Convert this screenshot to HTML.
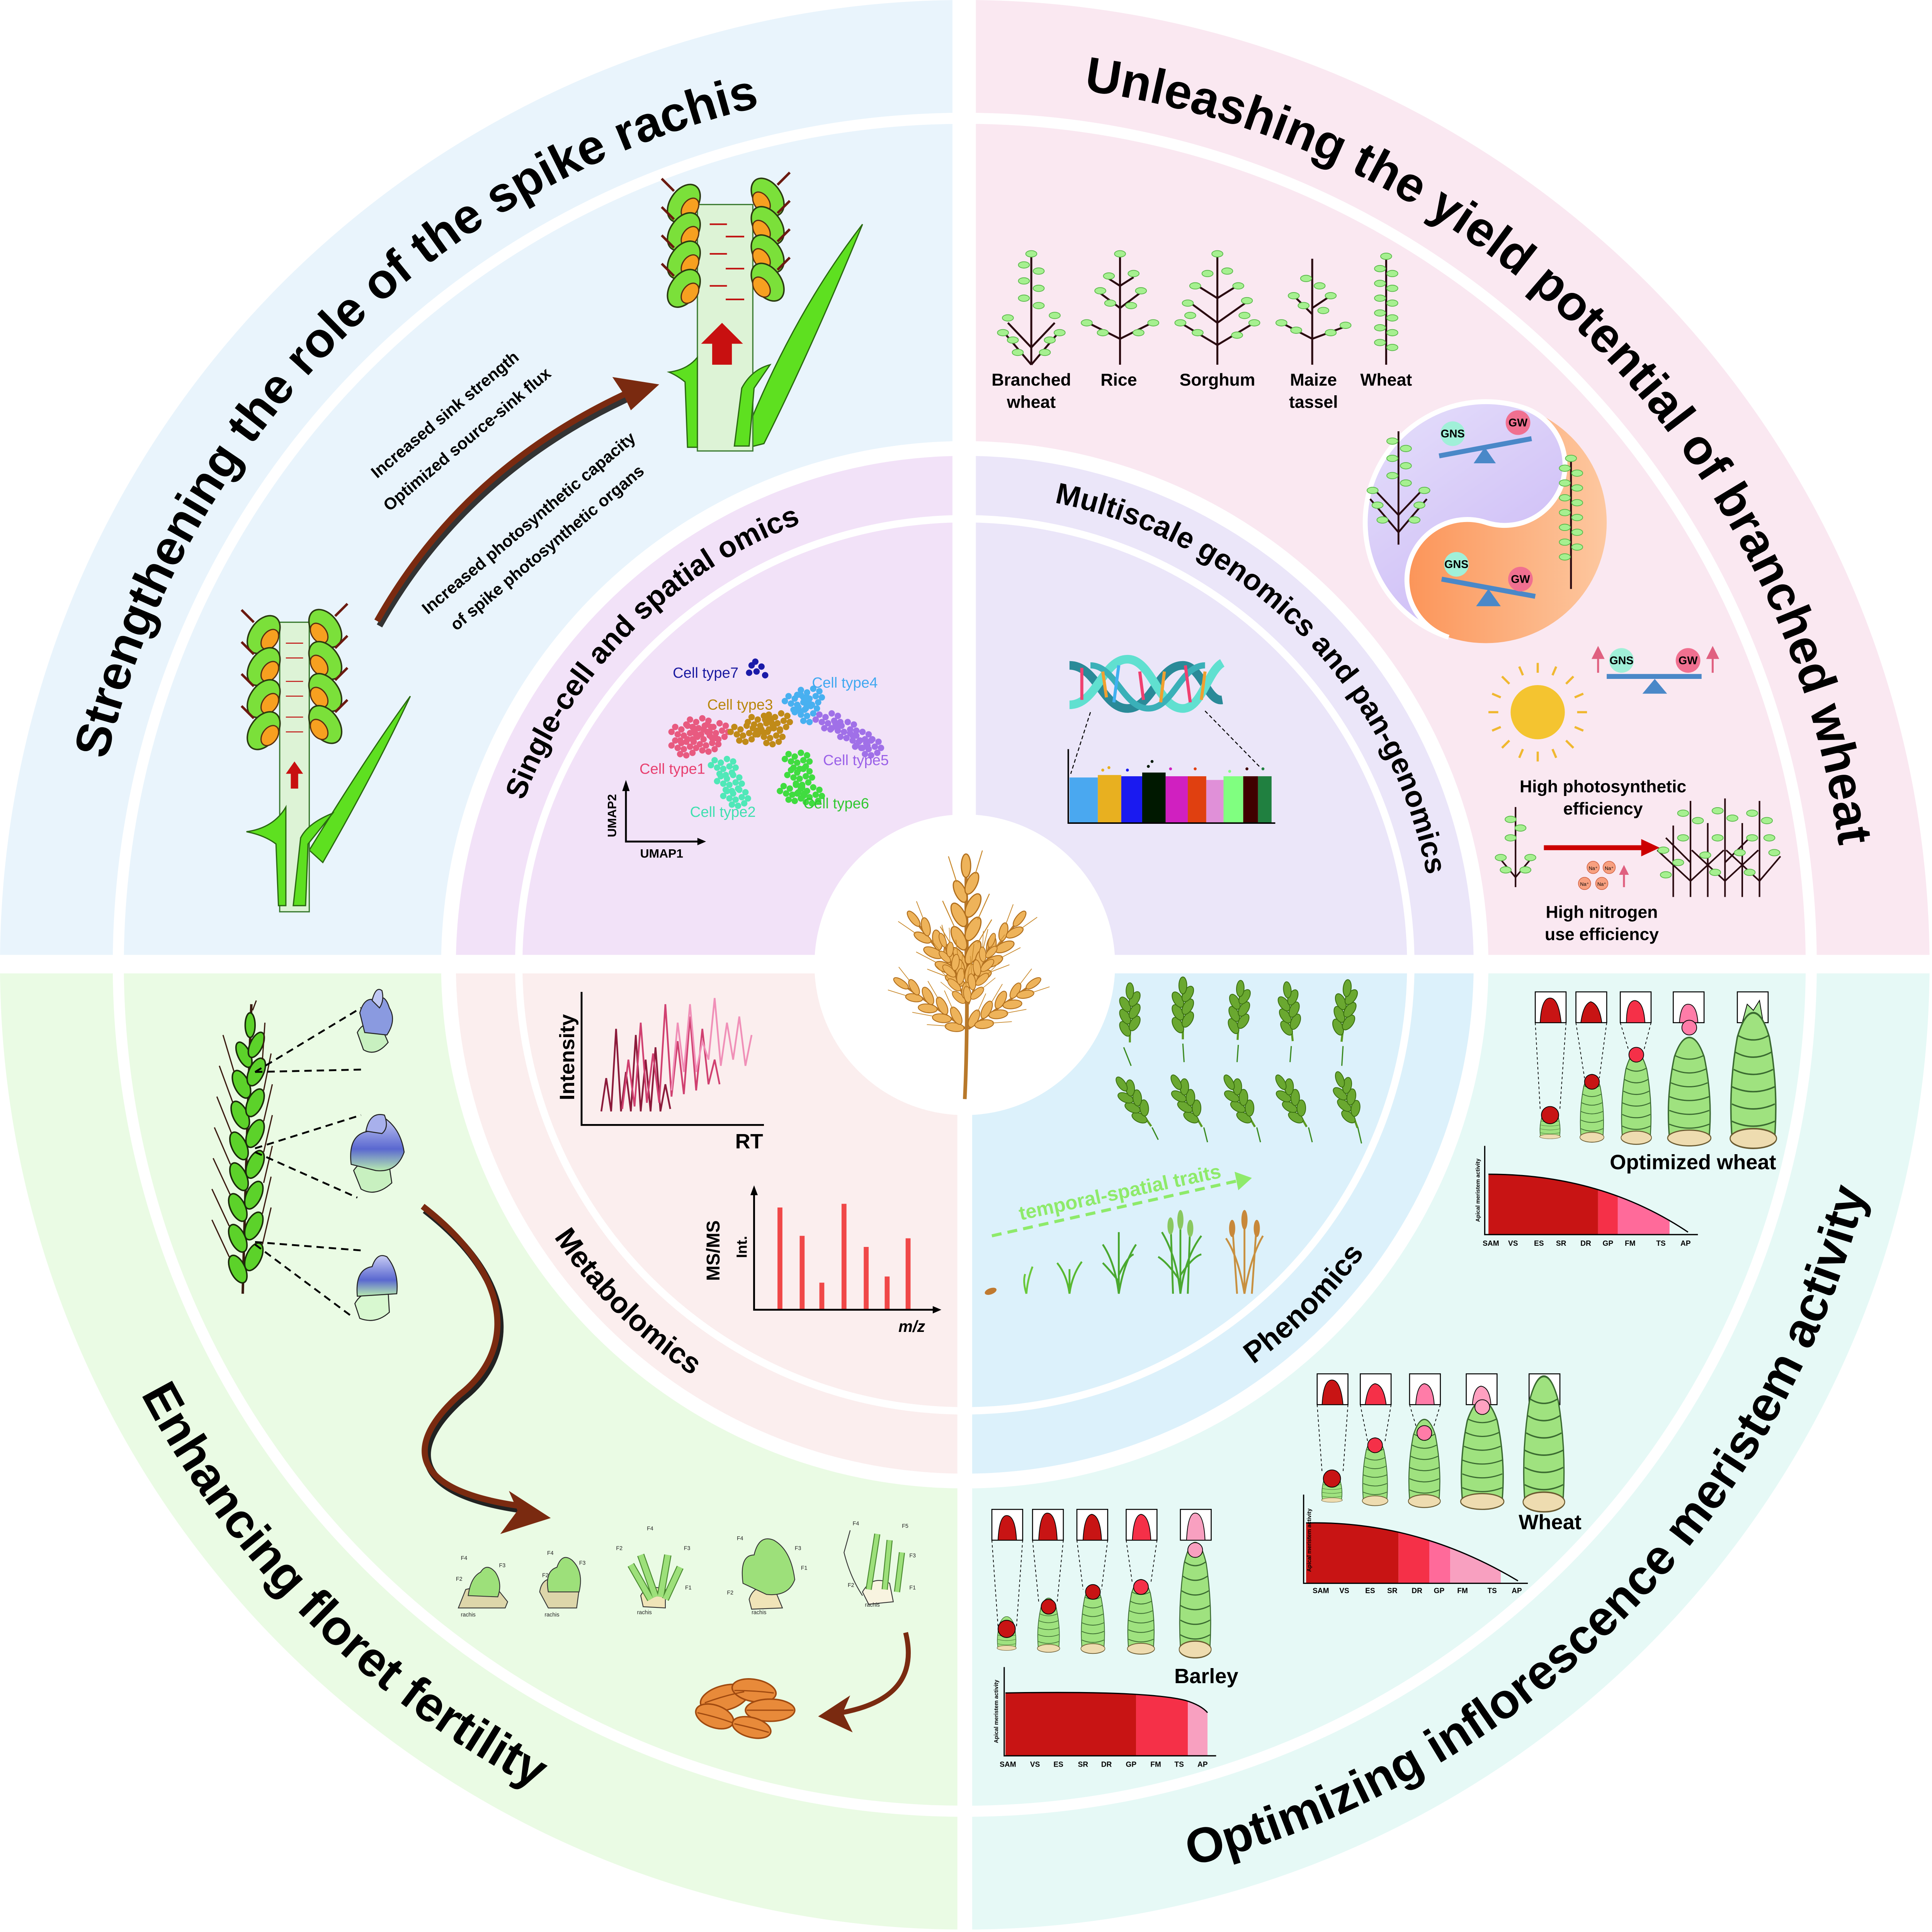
<!DOCTYPE html>
<html><head><meta charset="utf-8"><style>
html,body{margin:0;padding:0;background:#fff;overflow:hidden;width:100%;height:100%}
svg{display:block;width:100vw;height:100vh}
text{font-family:"Liberation Sans",Arial,sans-serif}
</style></head><body>
<svg viewBox="0 0 1568 1568" preserveAspectRatio="xMidYMid meet" xmlns="http://www.w3.org/2000/svg">
<defs>
<clipPath id="cTL"><rect x="0" y="0" width="773" height="775"/></clipPath>
<clipPath id="cTR"><rect x="792" y="0" width="776" height="775"/></clipPath>
<clipPath id="cBL"><rect x="0" y="790" width="777" height="778"/></clipPath>
<clipPath id="cBR"><rect x="789" y="790" width="779" height="778"/></clipPath>
<path id="pTL" d="M67,783 A716,716 0 0 1 783,67"/>
<path id="pTR" d="M783,67 A716,716 0 0 1 1499,783"/>
<path id="pBL" d="M29,783 A754,754 0 0 0 783,1537"/>
<path id="pBR" d="M783,1537 A754,754 0 0 0 1537,783"/>
<path id="iTL" d="M401,783 A382,382 0 0 1 783,401"/>
<path id="iTR" d="M783,401 A382,382 0 0 1 1165,783"/>
<path id="iBL" d="M383,783 A400,400 0 0 0 783,1183"/>
<path id="iBR" d="M783,1183 A400,400 0 0 0 1183,783"/>
<linearGradient id="gLav" x1="0" y1="0" x2="1" y2="1"><stop offset="0" stop-color="#e6e0fb"/><stop offset="1" stop-color="#c9b6f5"/></linearGradient>
<linearGradient id="gOr" x1="0" y1="0" x2="1" y2="0"><stop offset="0" stop-color="#fb8a4a"/><stop offset="1" stop-color="#fdc8a0"/></linearGradient>
<linearGradient id="gFl" x1="0" y1="0" x2="0" y2="1"><stop offset="0" stop-color="#c8ccf4"/><stop offset=".6" stop-color="#5a68d0"/><stop offset="1" stop-color="#b8ecb0"/></linearGradient>
<g id="spk"><line x1="-8" y1="-10" x2="-18" y2="-20" stroke="#6b1a10" stroke-width="2"/><ellipse rx="17" ry="11" transform="rotate(-55)" fill="#7be03a" stroke="#2a3a10" stroke-width="1.2"/><ellipse cx="5" cy="4" rx="9" ry="6" transform="rotate(-55 5 4)" fill="#f7a020" stroke="#5a3010" stroke-width="1"/></g>
<g id="lf"><ellipse rx="4.5" ry="2.6" fill="#a6f090" stroke="#58b848" stroke-width=".6"/></g>
<g id="dc"><circle r="2.6" cx="0" cy="0"/><circle r="2.6" cx="5" cy="2"/><circle r="2.6" cx="10" cy="-1"/><circle r="2.6" cx="15" cy="1"/><circle r="2.6" cx="2" cy="6"/><circle r="2.6" cx="7" cy="7"/><circle r="2.6" cx="12" cy="5"/><circle r="2.6" cx="17" cy="6"/><circle r="2.6" cx="4" cy="11"/><circle r="2.6" cx="9" cy="12"/><circle r="2.6" cx="14" cy="10"/><circle r="2.6" cx="-3" cy="4"/></g>
<g id="gold"><line x1="0" y1="0" x2="0" y2="-95" stroke="#b8782a" stroke-width="2.5"/>
<g fill="#eeb35a" stroke="#b06e1c" stroke-width="1">
<ellipse cx="-6" cy="-12" rx="5" ry="11" transform="rotate(-28 -6 -12)"/><ellipse cx="6" cy="-18" rx="5" ry="11" transform="rotate(28 6 -18)"/>
<ellipse cx="-6" cy="-30" rx="5" ry="11" transform="rotate(-28 -6 -30)"/><ellipse cx="6" cy="-38" rx="5" ry="11" transform="rotate(28 6 -38)"/>
<ellipse cx="-6" cy="-50" rx="5" ry="11" transform="rotate(-28 -6 -50)"/><ellipse cx="6" cy="-58" rx="5" ry="11" transform="rotate(28 6 -58)"/>
<ellipse cx="-5" cy="-70" rx="4.5" ry="10" transform="rotate(-25 -5 -70)"/><ellipse cx="5" cy="-77" rx="4.5" ry="10" transform="rotate(25 5 -77)"/>
<ellipse cx="0" cy="-92" rx="4" ry="10"/></g>
<g stroke="#c8882a" stroke-width=".8"><line x1="-10" y1="-20" x2="-22" y2="-40"/><line x1="10" y1="-26" x2="22" y2="-46"/><line x1="-10" y1="-40" x2="-20" y2="-62"/><line x1="10" y1="-46" x2="20" y2="-68"/><line x1="-8" y1="-78" x2="-15" y2="-100"/><line x1="8" y1="-85" x2="14" y2="-105"/></g></g>
<g id="gsp"><line x1="0" y1="10" x2="0" y2="-30" stroke="#5a9a20" stroke-width="1.5"/><g fill="#6aa830" stroke="#3a7010" stroke-width=".6">
<ellipse cx="-3.5" cy="0" rx="3.2" ry="6" transform="rotate(-30 -3.5 0)"/><ellipse cx="3.5" cy="-4" rx="3.2" ry="6" transform="rotate(30 3.5 -4)"/>
<ellipse cx="-3.5" cy="-9" rx="3.2" ry="6" transform="rotate(-30 -3.5 -9)"/><ellipse cx="3.5" cy="-13" rx="3.2" ry="6" transform="rotate(30 3.5 -13)"/>
<ellipse cx="-3.5" cy="-18" rx="3.2" ry="6" transform="rotate(-30 -3.5 -18)"/><ellipse cx="3.5" cy="-22" rx="3.2" ry="6" transform="rotate(30 3.5 -22)"/>
<ellipse cx="0" cy="-28" rx="2.8" ry="6"/></g></g>
<g id="mer"><path d="M-12,0 Q-14,-20 -9,-40 Q-5,-50 0,-50 Q5,-50 9,-40 Q14,-20 12,0 Z" fill="#9fe27f" stroke="#3a6a30" stroke-width=".8"/>
<g fill="none" stroke="#3a6a30" stroke-width=".6"><path d="M-12,-6 Q0,-2 12,-6"/><path d="M-12,-13 Q0,-9 12,-13"/><path d="M-12,-20 Q0,-16 12,-20"/><path d="M-11,-27 Q0,-23 11,-27"/><path d="M-10,-34 Q0,-30 10,-34"/><path d="M-9,-41 Q0,-37 9,-41"/></g>
<ellipse cx="0" cy="1" rx="13" ry="4" fill="#eedcb0" stroke="#6a5a30" stroke-width=".6"/></g>
<clipPath id="ch1"><path d="M1208,1002 L1208,953 Q1300,953 1370,1000 L1370,1002Z"/></clipPath>
<clipPath id="ch2"><path d="M1060,1285 L1060,1236 Q1150,1234 1232,1283 L1232,1285Z"/></clipPath>
<clipPath id="ch3"><path d="M816,1425 L816,1374 Q930,1372 962,1380 Q975,1384 980,1390 L980,1425Z"/></clipPath>
</defs>

<g clip-path="url(#cTL)"><circle cx="783" cy="783" r="783" fill="#e9f4fc"/></g>
<g clip-path="url(#cTR)"><circle cx="783" cy="783" r="783" fill="#fae8f1"/></g>
<g clip-path="url(#cBL)"><circle cx="783" cy="783" r="783" fill="#eafbe4"/></g>
<g clip-path="url(#cBR)"><circle cx="783" cy="783" r="783" fill="#e6f9f6"/></g>
<circle cx="783" cy="783" r="687" fill="none" stroke="#fff" stroke-width="9"/>
<circle cx="783" cy="783" r="425" fill="#fff"/>
<g clip-path="url(#cTL)"><circle cx="783" cy="783" r="413" fill="#f2e2f8"/></g>
<g clip-path="url(#cTR)"><circle cx="783" cy="783" r="413" fill="#ebe6f9"/></g>
<g clip-path="url(#cBL)"><circle cx="783" cy="783" r="413" fill="#fbeeee"/></g>
<g clip-path="url(#cBR)"><circle cx="783" cy="783" r="413" fill="#dcf1fb"/></g>
<circle cx="783" cy="783" r="362" fill="none" stroke="#fff" stroke-width="6"/>
<circle cx="783" cy="783" r="122" fill="#fff"/>

<g font-weight="bold" font-size="40" fill="#000">
<text><textPath href="#pTL" startOffset="50%" text-anchor="middle">Strengthening the role of the spike rachis</textPath></text>
<text><textPath href="#pTR" startOffset="50%" text-anchor="middle">Unleashing the yield potential of branched wheat</textPath></text>
<text><textPath href="#pBL" startOffset="50%" text-anchor="middle">Enhancing floret fertility</textPath></text>
<text><textPath href="#pBR" startOffset="50%" text-anchor="middle">Optimizing inflorescence meristem activity</textPath></text>
</g>
<g font-weight="bold" font-size="24" fill="#000">
<text><textPath href="#iTL" startOffset="50%" text-anchor="middle">Single-cell and spatial omics</textPath></text>
<text><textPath href="#iTR" startOffset="50%" text-anchor="middle">Multiscale genomics and pan-genomics</textPath></text>
<text><textPath href="#iBL" startOffset="50%" text-anchor="middle">Metabolomics</textPath></text>
<text><textPath href="#iBR" startOffset="50%" text-anchor="middle">Phenomics</textPath></text>
</g>

<g>
<path d="M251,690 Q300,610 333,565 Q305,625 262,700 Z" fill="#5ee020" stroke="#2a6a10" stroke-width="1"/>
<rect x="227" y="505" width="24" height="235" fill="#ddf3d6" stroke="#3a7a30" stroke-width="1"/>
<path d="M200,675 Q222,672 232,655 L232,735 L226,735 L224,685 Q215,678 200,675Z" fill="#5ee020" stroke="#2a6a10" stroke-width="1"/>
<path d="M238,735 L244,680 Q250,668 270,660 L250,685 L248,735Z" fill="#5ee020" stroke="#2a6a10" stroke-width="1"/>
<use href="#spk" x="214" y="515"/><use href="#spk" x="214" y="541"/><use href="#spk" x="214" y="567"/><use href="#spk" x="214" y="593"/>
<use href="#spk" transform="translate(264,510) scale(-1,1)"/><use href="#spk" transform="translate(264,536) scale(-1,1)"/><use href="#spk" transform="translate(264,562) scale(-1,1)"/><use href="#spk" transform="translate(264,588) scale(-1,1)"/>
<g stroke="#c01010" stroke-width=".8"><line x1="232" y1="522" x2="246" y2="522"/><line x1="232" y1="534" x2="246" y2="534"/><line x1="232" y1="553" x2="246" y2="553"/><line x1="232" y1="565" x2="246" y2="565"/><line x1="232" y1="582" x2="246" y2="582"/><line x1="232" y1="594" x2="246" y2="594"/></g>
<path d="M239,618 L232,628 L236,628 L236,640 L242,640 L242,628 L246,628Z" fill="#c81010"/>
</g>
<g>
<path d="M600,365 Q640,260 700,182 Q660,280 620,360 Z" fill="#5ee020" stroke="#2a6a10" stroke-width="1"/>
<rect x="566" y="166" width="45" height="200" fill="#ddf3d6" stroke="#3a7a30" stroke-width="1"/>
<path d="M543,302 Q558,300 566,290 L566,363 L558,363 L556,310 Q550,305 543,302Z" fill="#5ee020" stroke="#2a6a10" stroke-width="1"/>
<path d="M596,362 L602,315 Q610,300 625,296 L612,315 L608,362Z" fill="#5ee020" stroke="#2a6a10" stroke-width="1"/>
<use href="#spk" x="555" y="165"/><use href="#spk" x="555" y="188"/><use href="#spk" x="555" y="211"/><use href="#spk" x="555" y="234"/>
<use href="#spk" transform="translate(623,160) scale(-1,1)"/><use href="#spk" transform="translate(623,183) scale(-1,1)"/><use href="#spk" transform="translate(623,206) scale(-1,1)"/><use href="#spk" transform="translate(623,229) scale(-1,1)"/>
<g stroke="#c01010" stroke-width="1.3" fill="#c01010"><line x1="576" y1="182" x2="590" y2="182"/><line x1="589" y1="192" x2="604" y2="192"/><line x1="576" y1="206" x2="590" y2="206"/><line x1="589" y1="218" x2="604" y2="218"/><line x1="576" y1="232" x2="590" y2="232"/><line x1="589" y1="243" x2="604" y2="243"/></g>
<path d="M586,262 L569,279 L578,279 L578,296 L594,296 L594,279 L603,279Z" fill="#c81010"/>
</g>
<path d="M308,508 Q380,380 522,318" fill="none" stroke="#333" stroke-width="5"/>
<path d="M306,504 Q378,376 520,314" fill="none" stroke="#7a2a10" stroke-width="5"/>
<path d="M535,312 L497,306 L505,318 L512,333Z" fill="#7a2a10"/>
<g font-weight="bold" font-size="13.5" fill="#000" text-anchor="middle">
<text transform="translate(364,340) rotate(-40)">Increased sink strength</text>
<text transform="translate(382,360) rotate(-40)">Optimized source-sink flux</text>
<text transform="translate(432,428) rotate(-40)">Increased photosynthetic capacity</text>
<text transform="translate(447,448) rotate(-40)">of spike photosynthetic organs</text>
</g>

<g>
<use href="#dc" fill="#e85a80" x="548" y="590"/><use href="#dc" fill="#e85a80" x="560" y="584"/><use href="#dc" fill="#e85a80" x="548" y="601"/><use href="#dc" fill="#e85a80" x="566" y="598"/><use href="#dc" fill="#e85a80" x="574" y="588"/>
<use href="#dc" fill="#50e8b8" x="580" y="617"/><use href="#dc" fill="#50e8b8" x="585" y="630"/><use href="#dc" fill="#50e8b8" x="590" y="642"/>
<use href="#dc" fill="#c08a18" x="596" y="590"/><use href="#dc" fill="#c08a18" x="610" y="582"/><use href="#dc" fill="#c08a18" x="624" y="580"/><use href="#dc" fill="#c08a18" x="618" y="592"/>
<use href="#dc" fill="#48b0f0" x="640" y="565"/><use href="#dc" fill="#48b0f0" x="650" y="560"/><use href="#dc" fill="#48b0f0" x="648" y="574"/>
<use href="#dc" fill="#a070e8" x="665" y="580"/><use href="#dc" fill="#a070e8" x="678" y="587"/><use href="#dc" fill="#a070e8" x="690" y="595"/><use href="#dc" fill="#a070e8" x="698" y="601"/>
<use href="#dc" fill="#40dc40" x="640" y="612"/><use href="#dc" fill="#40dc40" x="642" y="625"/><use href="#dc" fill="#40dc40" x="636" y="638"/><use href="#dc" fill="#40dc40" x="650" y="640"/>
<g fill="#1a1aa8"><circle cx="610" cy="540" r="2.6"/><circle cx="614" cy="545" r="2.6"/><circle cx="618" cy="541" r="2.6"/><circle cx="613" cy="537" r="2.6"/><circle cx="621" cy="548" r="2.6"/><circle cx="608" cy="546" r="2.6"/></g>
<g font-size="12">
<text x="546" y="550" fill="#1a1aa0">Cell type7</text>
<text x="659" y="558" fill="#40a8f0">Cell type4</text>
<text x="574" y="576" fill="#b8860b">Cell type3</text>
<text x="668" y="621" fill="#9a60e8">Cell type5</text>
<text x="519" y="628" fill="#e84070">Cell type1</text>
<text x="560" y="663" fill="#40e0b0">Cell type2</text>
<text x="652" y="656" fill="#30c830">Cell type6</text>
</g>
<path d="M508,640 L508,683 L568,683" fill="none" stroke="#000" stroke-width="1.5"/>
<path d="M505,642 L508,633 L511,642Z M566,680 L573,683 L566,686Z"/>
<text x="537" y="696" font-size="10" font-weight="bold" text-anchor="middle">UMAP1</text>
<text transform="translate(500,662) rotate(-90)" font-size="10" font-weight="bold" text-anchor="middle">UMAP2</text>
</g>

<g stroke="#2a0a10" stroke-width="1.6" fill="none">
<line x1="837" y1="208" x2="837" y2="296"/><path d="M837,296 L815,270 M837,296 L859,270 M837,282 L818,262 M837,282 L856,262"/>
<line x1="909" y1="208" x2="909" y2="296"/><path d="M909,275 L883,262 M909,275 L935,262 M909,250 L893,238 M909,250 L925,238 M909,232 L898,225 M909,232 L920,225"/>
<line x1="988" y1="208" x2="988" y2="296"/><path d="M988,280 L958,262 M988,280 L1018,262 M988,262 L965,245 M988,262 L1012,245 M988,242 L972,232 M988,242 L1004,232"/>
<line x1="1065" y1="210" x2="1065" y2="296"/><path d="M1065,275 L1040,262 M1065,275 L1092,265 M1065,255 L1050,240 M1065,250 L1080,240"/>
<line x1="1125" y1="208" x2="1125" y2="296"/>
</g>
<g>
<use href="#lf" x="831" y="215"/><use href="#lf" x="843" y="220"/><use href="#lf" x="831" y="228"/><use href="#lf" x="843" y="234"/><use href="#lf" x="831" y="242"/><use href="#lf" x="843" y="248"/><use href="#lf" x="818" y="258"/><use href="#lf" x="856" y="256"/><use href="#lf" x="814" y="270"/><use href="#lf" x="860" y="270"/><use href="#lf" x="822" y="276"/><use href="#lf" x="852" y="276"/><use href="#lf" x="826" y="286"/><use href="#lf" x="848" y="286"/><use href="#lf" x="837" y="206"/>
<use href="#lf" x="909" y="206"/><use href="#lf" x="900" y="224"/><use href="#lf" x="920" y="222"/><use href="#lf" x="893" y="236"/><use href="#lf" x="926" y="236"/><use href="#lf" x="901" y="246"/><use href="#lf" x="918" y="248"/><use href="#lf" x="882" y="262"/><use href="#lf" x="936" y="262"/><use href="#lf" x="895" y="270"/><use href="#lf" x="924" y="270"/>
<use href="#lf" x="988" y="206"/><use href="#lf" x="980" y="222"/><use href="#lf" x="996" y="220"/><use href="#lf" x="970" y="232"/><use href="#lf" x="1005" y="232"/><use href="#lf" x="964" y="246"/><use href="#lf" x="1012" y="244"/><use href="#lf" x="958" y="262"/><use href="#lf" x="1018" y="262"/><use href="#lf" x="972" y="270"/><use href="#lf" x="1004" y="272"/><use href="#lf" x="966" y="256"/><use href="#lf" x="1010" y="256"/>
<use href="#lf" x="1060" y="226"/><use href="#lf" x="1071" y="232"/><use href="#lf" x="1050" y="240"/><use href="#lf" x="1080" y="240"/><use href="#lf" x="1058" y="248"/><use href="#lf" x="1074" y="252"/><use href="#lf" x="1040" y="262"/><use href="#lf" x="1092" y="264"/><use href="#lf" x="1052" y="268"/><use href="#lf" x="1080" y="270"/>
<use href="#lf" x="1125" y="208"/><use href="#lf" x="1120" y="218"/><use href="#lf" x="1130" y="222"/><use href="#lf" x="1120" y="230"/><use href="#lf" x="1130" y="234"/><use href="#lf" x="1120" y="242"/><use href="#lf" x="1130" y="246"/><use href="#lf" x="1120" y="254"/><use href="#lf" x="1130" y="258"/><use href="#lf" x="1120" y="266"/><use href="#lf" x="1130" y="270"/><use href="#lf" x="1120" y="278"/><use href="#lf" x="1130" y="282"/>
</g>
<g font-weight="bold" font-size="14" text-anchor="middle">
<text x="837" y="313">Branched</text><text x="837" y="331">wheat</text>
<text x="908" y="313">Rice</text><text x="988" y="313">Sorghum</text>
<text x="1066" y="313">Maize</text><text x="1066" y="331">tassel</text><text x="1125" y="313">Wheat</text>
</g>
<g transform="translate(1206,424)">
<circle r="98" fill="url(#gOr)"/>
<path transform="rotate(18)" d="M0,-98 A98,98 0 0 0 0,98 A49,49 0 0 1 0,0 A49,49 0 0 0 0,-98Z" fill="url(#gLav)" stroke="#fff" stroke-width="4"/>
</g>
<g stroke="#2a0a10" stroke-width="1.5"><line x1="1135" y1="350" x2="1135" y2="442"/><path d="M1135,432 L1112,405 M1135,432 L1158,405 M1135,418 L1116,398 M1135,418 L1154,398" fill="none"/><line x1="1275" y1="370" x2="1275" y2="478"/></g>
<g><use href="#lf" x="1130" y="358"/><use href="#lf" x="1141" y="364"/><use href="#lf" x="1130" y="372"/><use href="#lf" x="1141" y="378"/><use href="#lf" x="1130" y="386"/><use href="#lf" x="1141" y="392"/><use href="#lf" x="1114" y="398"/><use href="#lf" x="1156" y="398"/><use href="#lf" x="1118" y="410"/><use href="#lf" x="1152" y="410"/><use href="#lf" x="1122" y="422"/><use href="#lf" x="1148" y="422"/>
<use href="#lf" x="1270" y="380"/><use href="#lf" x="1280" y="384"/><use href="#lf" x="1270" y="392"/><use href="#lf" x="1280" y="396"/><use href="#lf" x="1270" y="404"/><use href="#lf" x="1280" y="408"/><use href="#lf" x="1270" y="416"/><use href="#lf" x="1280" y="420"/><use href="#lf" x="1270" y="428"/><use href="#lf" x="1280" y="432"/><use href="#lf" x="1270" y="440"/><use href="#lf" x="1280" y="444"/><use href="#lf" x="1270" y="452"/><use href="#lf" x="1275" y="372"/></g>
<g font-weight="bold" font-size="9" text-anchor="middle">
<line x1="1168" y1="370" x2="1243" y2="356" stroke="#4a88c8" stroke-width="4"/><path d="M1205,363 L1196,376 L1214,376Z" fill="#4a88c8"/>
<circle cx="1179" cy="352" r="10" fill="#a0f0d8"/><text x="1179" y="355">GNS</text>
<circle cx="1232" cy="343" r="10" fill="#f07090"/><text x="1232" y="346">GW</text>
<line x1="1170" y1="470" x2="1246" y2="484" stroke="#4a88c8" stroke-width="4"/><path d="M1208,478 L1198,492 L1218,492Z" fill="#4a88c8"/>
<circle cx="1182" cy="458" r="10" fill="#a0f0d8"/><text x="1182" y="461">GNS</text>
<circle cx="1234" cy="470" r="10" fill="#f07090"/><text x="1234" y="473">GW</text>
<line x1="1304" y1="549" x2="1381" y2="549" stroke="#4a88c8" stroke-width="4"/><path d="M1343,551 L1333,563 L1353,563Z" fill="#4a88c8"/>
<circle cx="1316" cy="536" r="10" fill="#a0f0d8"/><text x="1316" y="539">GNS</text>
<circle cx="1370" cy="536" r="10" fill="#f07090"/><text x="1370" y="539">GW</text>
</g>
<g stroke="#e06080" stroke-width="1.6" fill="#e06080"><line x1="1297" y1="546" x2="1297" y2="532"/><path d="M1293,534 L1297,526 L1301,534Z"/><line x1="1390" y1="546" x2="1390" y2="532"/><path d="M1386,534 L1390,526 L1394,534Z"/></g>
<g stroke="#f0b830" stroke-width="1.8"><circle cx="1248" cy="578" r="22" fill="#f4c430" stroke="none"/>
<line x1="1248" y1="546" x2="1248" y2="538"/><line x1="1248" y1="610" x2="1248" y2="618"/><line x1="1216" y1="578" x2="1208" y2="578"/><line x1="1280" y1="578" x2="1288" y2="578"/><line x1="1225" y1="555" x2="1219" y2="549"/><line x1="1271" y1="555" x2="1277" y2="549"/><line x1="1225" y1="601" x2="1219" y2="607"/><line x1="1271" y1="601" x2="1277" y2="607"/><line x1="1236" y1="548" x2="1233" y2="541"/><line x1="1260" y1="548" x2="1263" y2="541"/><line x1="1236" y1="608" x2="1233" y2="615"/><line x1="1260" y1="608" x2="1263" y2="615"/><line x1="1218" y1="566" x2="1211" y2="563"/><line x1="1278" y1="566" x2="1285" y2="563"/><line x1="1218" y1="590" x2="1211" y2="593"/><line x1="1278" y1="590" x2="1285" y2="593"/></g>
<g font-weight="bold" font-size="14" text-anchor="middle"><text x="1301" y="643">High photosynthetic</text><text x="1301" y="661">efficiency</text><text x="1300" y="745">High nitrogen</text><text x="1300" y="763">use efficiency</text></g>
<line x1="1253" y1="688" x2="1335" y2="688" stroke="#c00" stroke-width="4"/><path d="M1332,681 L1347,688 L1332,695Z" fill="#c00"/>
<g fill="#f8a080" stroke="#d06040" stroke-width=".5"><circle cx="1293" cy="704" r="5"/><circle cx="1306" cy="704" r="5"/><circle cx="1286" cy="717" r="5"/><circle cx="1300" cy="717" r="5"/></g>
<g font-size="4" text-anchor="middle"><text x="1293" y="706">Na⁺</text><text x="1306" y="706">Na⁺</text><text x="1286" y="719">Na⁺</text><text x="1300" y="719">Na⁺</text></g>
<line x1="1318" y1="720" x2="1318" y2="708" stroke="#e06080" stroke-width="1.6"/><path d="M1314,710 L1318,702 L1322,710Z" fill="#e06080"/>
<g stroke="#2a0a10" stroke-width="1.3" fill="none"><line x1="1230" y1="655" x2="1230" y2="720"/><path d="M1230,712 L1215,694 M1230,712 L1245,694"/>
<line x1="1372" y1="650" x2="1372" y2="728"/><line x1="1400" y1="648" x2="1400" y2="728"/><line x1="1428" y1="650" x2="1428" y2="728"/><line x1="1358" y1="670" x2="1358" y2="728"/><line x1="1386" y1="668" x2="1386" y2="728"/><line x1="1414" y1="668" x2="1414" y2="728"/>
<path d="M1372,715 L1345,690 M1372,715 L1399,690 M1400,715 L1373,690 M1400,715 L1427,690 M1428,715 L1401,690 M1428,715 L1445,695 M1372,700 L1352,680 M1400,700 L1420,680"/></g>
<g><use href="#lf" x="1226" y="665"/><use href="#lf" x="1234" y="672"/><use href="#lf" x="1226" y="680"/><use href="#lf" x="1218" y="696"/><use href="#lf" x="1242" y="696"/><use href="#lf" x="1222" y="706"/><use href="#lf" x="1238" y="706"/>
<use href="#lf" x="1366" y="660"/><use href="#lf" x="1378" y="666"/><use href="#lf" x="1394" y="658"/><use href="#lf" x="1406" y="664"/><use href="#lf" x="1422" y="660"/><use href="#lf" x="1434" y="666"/><use href="#lf" x="1350" y="690"/><use href="#lf" x="1362" y="700"/><use href="#lf" x="1384" y="694"/><use href="#lf" x="1412" y="692"/><use href="#lf" x="1440" y="692"/><use href="#lf" x="1352" y="710"/><use href="#lf" x="1392" y="708"/><use href="#lf" x="1420" y="708"/><use href="#lf" x="1436" y="680"/><use href="#lf" x="1366" y="680"/><use href="#lf" x="1394" y="680"/><use href="#lf" x="1422" y="680"/></g>

<g fill="none" stroke-width="7">
<path d="M868,540 C890,540 895,575 915,575 C935,575 940,540 960,540 C975,540 980,570 992,568" stroke="#2a8a98"/>
<path d="M868,572 C890,572 895,535 915,535 C935,535 940,575 960,575 C975,575 980,545 992,538" stroke="#60e0d0"/>
<path d="M885,540 C905,540 912,575 932,575 C952,575 958,540 978,540" stroke="#3ab0b8" stroke-width="5"/>
</g>
<g stroke-width="2.5"><line x1="878" y1="542" x2="878" y2="568" stroke="#f04070"/><line x1="895" y1="545" x2="898" y2="566" stroke="#f0a030"/><line x1="908" y1="540" x2="904" y2="570" stroke="#40b0f0"/><line x1="925" y1="545" x2="928" y2="568" stroke="#f04070"/><line x1="945" y1="545" x2="942" y2="570" stroke="#f0a030"/><line x1="962" y1="540" x2="966" y2="570" stroke="#f04070"/><line x1="978" y1="545" x2="975" y2="568" stroke="#f0a030"/></g>
<g stroke="#000" stroke-width=".8" stroke-dasharray="3,2"><line x1="885" y1="578" x2="869" y2="628"/><line x1="978" y1="577" x2="1022" y2="622"/></g>
<rect x="868" y="631" width="23" height="37" fill="#4aa8f0"/><rect x="891" y="629" width="19" height="39" fill="#e8b020"/><rect x="910" y="630" width="17" height="38" fill="#1a1af0"/><rect x="927" y="627" width="19" height="41" fill="#001800"/><rect x="946" y="630" width="18" height="38" fill="#d020c0"/><rect x="964" y="630" width="15" height="38" fill="#e04010"/><rect x="979" y="633" width="14" height="35" fill="#e090d8"/><rect x="993" y="630" width="16" height="38" fill="#80ff80"/><rect x="1009" y="630" width="12" height="38" fill="#400000"/><rect x="1021" y="630" width="11" height="38" fill="#208040"/>
<g><circle cx="895" cy="625" r="1.2" fill="#e8b020"/><circle cx="900" cy="623" r="1.2" fill="#e8b020"/><circle cx="915" cy="625" r="1.2" fill="#1a1af0"/><circle cx="932" cy="622" r="1.2" fill="#001800"/><circle cx="935" cy="618" r="1.2" fill="#001800"/><circle cx="950" cy="624" r="1.2" fill="#d020c0"/><circle cx="970" cy="624" r="1.2" fill="#e04010"/><circle cx="998" cy="626" r="1.2" fill="#80ff80"/><circle cx="1012" cy="624" r="1.2" fill="#400000"/><circle cx="1025" cy="624" r="1.2" fill="#208040"/></g>
<path d="M867,608 L867,668 L1035,668" fill="none" stroke="#000" stroke-width="1.2"/>

<g>
<path d="M783,892 Q786,830 784,720" stroke="#b8782a" stroke-width="3" fill="none"/>
<use href="#gold" transform="translate(784,790) scale(.95)"/>
<use href="#gold" transform="translate(784,800) rotate(-38) scale(.75)"/>
<use href="#gold" transform="translate(785,800) rotate(38) scale(.75)"/>
<use href="#gold" transform="translate(784,835) rotate(-55) scale(.7)"/>
<use href="#gold" transform="translate(786,835) rotate(55) scale(.7)"/>
<use href="#gold" transform="translate(784,815) rotate(-20) scale(.6)"/>
<use href="#gold" transform="translate(786,815) rotate(20) scale(.6)"/>
</g>

<g>
<path d="M204,815 Q200,930 197,1050" stroke="#3a1a10" stroke-width="2" fill="none"/>
<g fill="#5cd22a" stroke="#1a2a0a" stroke-width="1.2">
<ellipse cx="193" cy="1030" rx="6" ry="12" transform="rotate(-25 193 1030)"/><ellipse cx="206" cy="1020" rx="6" ry="12" transform="rotate(25 206 1020)"/>
<ellipse cx="193" cy="1005" rx="6" ry="12" transform="rotate(-25 193 1005)"/><ellipse cx="206" cy="995" rx="6" ry="12" transform="rotate(25 206 995)"/>
<ellipse cx="193" cy="980" rx="6" ry="12" transform="rotate(-25 193 980)"/><ellipse cx="206" cy="970" rx="6" ry="12" transform="rotate(25 206 970)"/>
<ellipse cx="194" cy="955" rx="6" ry="12" transform="rotate(-25 194 955)"/><ellipse cx="207" cy="945" rx="6" ry="12" transform="rotate(25 207 945)"/>
<ellipse cx="194" cy="930" rx="6" ry="12" transform="rotate(-25 194 930)"/><ellipse cx="207" cy="920" rx="6" ry="12" transform="rotate(25 207 920)"/>
<ellipse cx="195" cy="905" rx="6" ry="12" transform="rotate(-25 195 905)"/><ellipse cx="207" cy="895" rx="6" ry="12" transform="rotate(25 207 895)"/>
<ellipse cx="196" cy="880" rx="6" ry="12" transform="rotate(-25 196 880)"/><ellipse cx="208" cy="870" rx="6" ry="12" transform="rotate(25 208 870)"/>
<ellipse cx="198" cy="856" rx="5" ry="11" transform="rotate(-25 198 856)"/><ellipse cx="208" cy="848" rx="5" ry="11" transform="rotate(25 208 848)"/>
<ellipse cx="203" cy="832" rx="4" ry="10"/></g>
<g stroke="#3a1a10" stroke-width="1"><line x1="186" y1="1020" x2="172" y2="990"/><line x1="186" y1="995" x2="172" y2="965"/><line x1="187" y1="970" x2="173" y2="940"/><line x1="187" y1="945" x2="174" y2="915"/><line x1="188" y1="920" x2="176" y2="890"/><line x1="189" y1="895" x2="178" y2="865"/><line x1="190" y1="870" x2="181" y2="840"/><line x1="213" y1="1010" x2="220" y2="980"/><line x1="213" y1="985" x2="220" y2="955"/><line x1="214" y1="960" x2="221" y2="930"/><line x1="214" y1="935" x2="221" y2="905"/><line x1="214" y1="910" x2="221" y2="880"/><line x1="214" y1="885" x2="220" y2="855"/><line x1="213" y1="860" x2="215" y2="830"/><line x1="205" y1="820" x2="208" y2="812"/></g>
</g>
<g stroke="#000" stroke-width="1.5" stroke-dasharray="6,4"><line x1="207" y1="870" x2="293" y2="818"/><line x1="207" y1="870" x2="296" y2="868"/><line x1="207" y1="932" x2="293" y2="905"/><line x1="207" y1="935" x2="290" y2="972"/><line x1="207" y1="1008" x2="295" y2="1015"/><line x1="207" y1="1010" x2="285" y2="1068"/></g>
<g stroke="#222" stroke-width=".8">
<path d="M290,838 Q295,828 308,830 L315,846 Q305,858 295,852Z" fill="#c8f0c0"/><path d="M292,822 Q296,808 305,812 Q312,805 316,818 Q322,828 314,840 L296,838Z" fill="#8a9ae0"/><path d="M302,812 Q305,800 310,804 Q312,812 308,818Z" fill="#c0c8f4"/>
<path d="M287,950 Q295,938 315,940 L318,960 Q305,972 293,965Z" fill="#c8f0c0"/><path d="M285,945 Q282,920 300,918 Q298,905 310,906 Q325,915 328,935 Q322,952 305,950Z" fill="url(#gFl)"/><path d="M297,918 Q300,902 312,905 Q316,915 310,920Z" fill="#a8b0ec"/>
<path d="M288,1058 Q295,1045 315,1048 L316,1065 Q305,1075 292,1070Z" fill="#d8f8d0"/><path d="M290,1052 Q288,1030 302,1028 Q306,1016 314,1020 Q324,1032 322,1050Z" fill="url(#gFl)"/>
</g>
<path d="M345,982 C420,1040 420,1100 375,1135 C325,1180 340,1215 430,1226" fill="none" stroke="#222" stroke-width="6"/>
<path d="M343,979 C418,1037 418,1097 373,1132 C323,1177 338,1212 428,1223" fill="none" stroke="#7a2a10" stroke-width="5"/>
<path d="M447,1232 L413,1210 L420,1226 L406,1245Z" fill="#7a2a10"/>
<g stroke="#333" stroke-width=".7">
<path d="M372,1305 L378,1290 L400,1285 L412,1300 L410,1305Z" fill="#ddd6aa"/><path d="M380,1295 Q382,1280 390,1276 Q395,1268 402,1276 Q408,1285 404,1296Z" fill="#9de07a"/>
<path d="M438,1292 Q440,1278 455,1282 L470,1290 L468,1305 L445,1305Z" fill="#ddd6aa"/><path d="M445,1292 Q442,1275 452,1272 Q456,1260 464,1266 Q474,1275 470,1292Z" fill="#9de07a"/>
<path d="M520,1295 Q525,1285 540,1290 L540,1305 L522,1304Z" fill="#f0e4b8"/><path d="M512,1270 L528,1298 M520,1262 L532,1296 M542,1262 L536,1296 M552,1272 L540,1298" stroke="#4a8a30" stroke-width="6"/><path d="M512,1270 L528,1298 M520,1262 L532,1296 M542,1262 L536,1296 M552,1272 L540,1298" stroke="#9de07a" stroke-width="4.5"/>
<path d="M608,1298 Q612,1285 628,1288 L635,1305 L610,1306Z" fill="#f0e4b8"/><path d="M603,1285 Q600,1262 612,1262 Q616,1245 628,1250 Q642,1258 645,1282 Q640,1296 622,1294Z" fill="#9de07a"/>
<path d="M700,1292 Q708,1278 722,1285 L725,1300 L705,1302Z" fill="#f8f4e0"/><path d="M705,1290 L712,1245 M718,1290 L722,1250 M728,1292 L732,1260" stroke="#4a8a30" stroke-width="5"/><path d="M705,1290 L712,1245 M718,1290 L722,1250 M728,1292 L732,1260" stroke="#9de07a" stroke-width="3.5"/><path d="M690,1242 L685,1260 Q690,1280 700,1295" fill="none"/>
</g>
<g font-size="4.5" fill="#222"><text x="374" y="1312">rachis</text><text x="442" y="1312">rachis</text><text x="517" y="1310">rachis</text><text x="610" y="1310">rachis</text><text x="702" y="1304">rachis</text><text x="370" y="1283">F2</text><text x="405" y="1272">F3</text><text x="374" y="1266">F4</text><text x="440" y="1280">F2</text><text x="444" y="1262">F4</text><text x="470" y="1270">F3</text><text x="500" y="1258">F2</text><text x="525" y="1242">F4</text><text x="555" y="1258">F3</text><text x="556" y="1290">F1</text><text x="590" y="1294">F2</text><text x="598" y="1250">F4</text><text x="645" y="1258">F3</text><text x="650" y="1274">F1</text><text x="692" y="1238">F4</text><text x="732" y="1240">F5</text><text x="738" y="1264">F3</text><text x="738" y="1290">F1</text><text x="688" y="1288">F2</text></g>
<g fill="#e88a3a" stroke="#a04a10" stroke-width="1.2">
<ellipse cx="588" cy="1378" rx="20" ry="10" transform="rotate(-15 588 1378)"/><ellipse cx="612" cy="1372" rx="18" ry="9" transform="rotate(10 612 1372)"/><ellipse cx="580" cy="1393" rx="16" ry="9" transform="rotate(20 580 1393)"/><ellipse cx="625" cy="1388" rx="20" ry="9"/><ellipse cx="610" cy="1402" rx="16" ry="8" transform="rotate(15 610 1402)"/>
</g>
<g stroke="#a04a10" stroke-width="1" fill="none"><path d="M572,1382 Q588,1376 604,1373"/><path d="M596,1372 Q612,1372 628,1374"/><path d="M566,1390 Q580,1393 594,1398"/><path d="M606,1388 L644,1388"/><path d="M596,1399 Q610,1402 624,1406"/></g>
<path d="M735,1325 Q748,1378 683,1390" fill="none" stroke="#7a2a10" stroke-width="4"/><path d="M664,1393 L690,1376 L684,1390 L692,1406Z" fill="#7a2a10"/>

<g fill="none" stroke-width="1.4">
<path d="M488,902 L492,875 L496,902 L500,835 L504,902 L508,870 L512,902 L516,840 L520,902 L524,860 L528,902 L532,850 L536,902 L540,880 L544,900" stroke="#8b1a3a"/>
<path d="M505,900 L510,860 L515,898 L520,830 L525,895 L530,855 L535,895 L540,815 L545,890 L550,845 L555,888 L560,825 L565,885 L570,835 L575,880 L580,860 L584,880" stroke="#d04070"/>
<path d="M545,885 L550,830 L555,870 L560,815 L565,870 L570,845 L575,860 L580,810 L585,865 L590,830 L595,860 L600,825 L605,865 L610,840" stroke="#f090b8"/>
</g>
<path d="M472,805 L472,913 L620,913" fill="none" stroke="#000" stroke-width="1.5"/>
<text transform="translate(466,858) rotate(-90)" font-size="17" font-weight="bold" text-anchor="middle">Intensity</text>
<text x="608" y="932" font-size="17" font-weight="bold" text-anchor="middle">RT</text>
<g fill="#f04848"><rect x="631" y="980" width="4" height="83"/><rect x="649" y="1003" width="4" height="60"/><rect x="665" y="1041" width="4" height="22"/><rect x="683" y="977" width="4" height="86"/><rect x="701" y="1012" width="4" height="51"/><rect x="718" y="1036" width="4" height="27"/><rect x="735" y="1005" width="4" height="58"/></g>
<path d="M612,968 L612,1063 L760,1063" fill="none" stroke="#000" stroke-width="1.5"/><path d="M609,970 L612,962 L615,970Z M757,1060 L764,1063 L757,1066Z"/>
<text transform="translate(584,1015) rotate(-90)" font-size="15" font-weight="bold" text-anchor="middle">MS/MS</text>
<text transform="translate(606,1012) rotate(-90)" font-size="12" font-weight="bold" text-anchor="middle">Int.</text>
<text x="740" y="1081" font-size="13" font-weight="bold" font-style="italic" text-anchor="middle">m/z</text>

<g>
<use href="#gsp" transform="translate(917,835) scale(1.1)"/><use href="#gsp" transform="translate(960,832) scale(1.15)"/><use href="#gsp" transform="translate(1005,833) scale(1.1) rotate(3)"/><use href="#gsp" transform="translate(1048,834) scale(1.1) rotate(-6)"/><use href="#gsp" transform="translate(1090,834) scale(1.15) rotate(6)"/>
<use href="#gsp" transform="translate(928,905) rotate(-35) scale(1.1)"/><use href="#gsp" transform="translate(970,905) rotate(-30) scale(1.1)"/><use href="#gsp" transform="translate(1013,905) rotate(-30) scale(1.1)"/><use href="#gsp" transform="translate(1055,905) rotate(-30) scale(1.1)"/><use href="#gsp" transform="translate(1098,905) rotate(-20) scale(1.1)"/>
<g stroke="#3a8a20" stroke-width="1"><line x1="912" y1="850" x2="918" y2="865"/><line x1="960" y1="847" x2="961" y2="862"/><line x1="1005" y1="848" x2="1004" y2="862"/><line x1="1048" y1="849" x2="1047" y2="862"/><line x1="1090" y1="849" x2="1089" y2="865"/><line x1="935" y1="915" x2="940" y2="925"/><line x1="977" y1="915" x2="980" y2="927"/><line x1="1020" y1="915" x2="1023" y2="927"/><line x1="1062" y1="915" x2="1065" y2="927"/><line x1="1102" y1="915" x2="1105" y2="928"/></g>
</g>
<line x1="805" y1="1003" x2="1006" y2="958" stroke="#8eea6a" stroke-width="2.5" stroke-dasharray="8,5"/><path d="M1002,951 L1016,956 L1005,966Z" fill="#8eea6a"/>
<text transform="translate(910,973) rotate(-12)" font-size="16" font-weight="bold" fill="#8eea6a" text-anchor="middle">temporal-spatial traits</text>
<g fill="none" stroke-width="1.5">
<ellipse cx="804" cy="1048" rx="5" ry="2.5" fill="#c07a30" stroke="none" transform="rotate(-20 804 1048)"/>
<path d="M833,1050 Q834,1038 838,1028 M833,1050 Q830,1040 832,1034" stroke="#6ac83a"/>
<path d="M868,1050 Q866,1035 858,1025 M868,1050 Q870,1035 878,1024 M868,1050 L868,1030" stroke="#58b830"/>
<path d="M908,1050 Q905,1025 895,1010 M908,1050 Q912,1025 922,1010 M908,1050 L908,1000 M908,1040 Q900,1030 895,1025 M908,1035 Q915,1020 920,1018" stroke="#4aa830"/>
<path d="M958,1050 Q955,1020 943,1000 M958,1050 Q962,1020 975,1003 M958,1050 L958,985 M958,1040 Q948,1025 940,1020 M958,1035 Q968,1020 975,1018 M952,1050 L950,990 M964,1050 L966,992" stroke="#4aa830"/>
<path d="M1010,1050 Q1005,1020 995,1005 M1010,1050 Q1015,1020 1025,1003 M1010,1050 L1010,985 M1004,1050 L1000,992 M1016,1050 L1020,992" stroke="#c89040"/>
</g>
<g fill="#c8883a"><ellipse cx="1010" cy="990" rx="2.5" ry="8"/><ellipse cx="1000" cy="997" rx="2.5" ry="7"/><ellipse cx="1020" cy="997" rx="2.5" ry="7"/></g>
<g fill="#8ac860"><ellipse cx="958" cy="990" rx="2.5" ry="8"/><ellipse cx="950" cy="995" rx="2.5" ry="7"/><ellipse cx="966" cy="997" rx="2.5" ry="7"/></g>

<g stroke="#000" stroke-width=".8" fill="#fff">
<rect x="1246" y="805" width="25" height="25"/><rect x="1279" y="805" width="25" height="25"/><rect x="1315" y="805" width="25" height="25"/><rect x="1358" y="805" width="25" height="25"/><rect x="1410" y="805" width="25" height="25"/>
<rect x="1069" y="1115" width="25" height="25"/><rect x="1104" y="1115" width="25" height="25"/><rect x="1144" y="1115" width="25" height="25"/><rect x="1190" y="1115" width="25" height="25"/><rect x="1241" y="1115" width="25" height="25"/>
<rect x="805" y="1225" width="25" height="25"/><rect x="838" y="1225" width="25" height="25"/><rect x="874" y="1225" width="25" height="25"/><rect x="914" y="1225" width="25" height="25"/><rect x="958" y="1225" width="25" height="25"/>
</g>
<g stroke="#000" stroke-width=".6">
<path d="M1250,830 Q1251,810 1258,810 Q1265,810 1267,830Z" fill="#c81414"/><path d="M1283,830 Q1285,815 1291,813 Q1298,815 1300,830Z" fill="#c81414"/><path d="M1320,830 Q1320,812 1327,812 Q1334,813 1335,830Z" fill="#f53048"/><path d="M1363,830 Q1364,815 1370,815 Q1377,815 1378,830Z" fill="#ff7ca8"/><path d="M1414,830 L1418,815 L1423,820 L1428,812 L1431,830Z" fill="#a8e890"/>
<path d="M1073,1140 Q1074,1120 1081,1120 Q1088,1120 1090,1140Z" fill="#c81414"/><path d="M1108,1140 Q1110,1124 1116,1123 Q1123,1124 1125,1140Z" fill="#f53048"/><path d="M1149,1140 Q1150,1124 1156,1123 Q1163,1124 1164,1140Z" fill="#ff7ca8"/><path d="M1195,1140 Q1196,1126 1202,1125 Q1209,1126 1210,1140Z" fill="#ffa0c0"/><path d="M1245,1140 L1249,1125 L1254,1130 L1258,1122 L1262,1140Z" fill="#a8e890"/>
<path d="M810,1250 Q811,1230 817,1230 Q824,1230 825,1250Z" fill="#c81414"/><path d="M843,1250 Q844,1228 850,1228 Q857,1228 858,1250Z" fill="#c81414"/><path d="M879,1250 Q880,1230 886,1229 Q893,1230 894,1250Z" fill="#c81414"/><path d="M919,1250 Q920,1230 926,1229 Q933,1230 934,1250Z" fill="#f53048"/><path d="M963,1250 Q964,1228 970,1228 Q977,1228 978,1250Z" fill="#f8a0c0"/>
</g>
<g stroke="#000" stroke-width=".6" stroke-dasharray="2,2" fill="none">
<path d="M1246,830 L1250,900 M1271,830 L1266,900 M1279,830 L1286,875 M1304,830 L1298,875 M1315,830 L1322,853 M1340,830 L1334,853 M1358,830 L1364,830 M1383,830 L1376,830"/>
<path d="M1069,1140 L1073,1195 M1094,1140 L1090,1195 M1104,1140 L1110,1170 M1129,1140 L1124,1170 M1144,1140 L1150,1160 M1169,1140 L1163,1160"/>
<path d="M805,1250 L810,1320 M830,1250 L825,1320 M838,1250 L843,1300 M863,1250 L858,1300 M874,1250 L879,1290 M899,1250 L894,1290 M914,1250 L919,1285 M939,1250 L934,1285"/>
</g>
<g>
<use href="#mer" transform="translate(1258,922) scale(.65,.45)"/><use href="#mer" transform="translate(1292,922) scale(.75,1.0)"/><use href="#mer" transform="translate(1328,922) scale(.95,1.35)"/><use href="#mer" transform="translate(1371,922) scale(1.35,1.6)"/><use href="#mer" transform="translate(1423,922) scale(1.45,2.0)"/>
<use href="#mer" transform="translate(1081,1217) scale(.65,.45)"/><use href="#mer" transform="translate(1116,1217) scale(.8,1.0)"/><use href="#mer" transform="translate(1156,1217) scale(1.0,1.3)"/><use href="#mer" transform="translate(1203,1217) scale(1.35,1.6)"/><use href="#mer" transform="translate(1253,1217) scale(1.3,2.0)"/>
<use href="#mer" transform="translate(817,1337) scale(.6,.5)"/><use href="#mer" transform="translate(851,1337) scale(.7,.8)"/><use href="#mer" transform="translate(887,1337) scale(.75,1.0)"/><use href="#mer" transform="translate(926,1337) scale(.85,1.1)"/><use href="#mer" transform="translate(970,1337) scale(1.0,1.7)"/>
</g>
<g stroke="#000" stroke-width=".6">
<circle cx="1258" cy="905" r="7" fill="#c81414"/><circle cx="1292" cy="878" r="6" fill="#c81414"/><circle cx="1328" cy="856" r="6" fill="#f53048"/><circle cx="1371" cy="834" r="6" fill="#ff7ca8"/>
<circle cx="1081" cy="1200" r="7" fill="#c81414"/><circle cx="1116" cy="1173" r="6" fill="#f53048"/><circle cx="1156" cy="1163" r="6" fill="#ff7ca8"/><circle cx="1203" cy="1142" r="6" fill="#ffa0c0"/>
<circle cx="817" cy="1322" r="7" fill="#c81414"/><circle cx="851" cy="1304" r="6" fill="#c81414"/><circle cx="887" cy="1292" r="6" fill="#c81414"/><circle cx="926" cy="1288" r="6" fill="#f53048"/><circle cx="970" cy="1258" r="6" fill="#f8a0c0"/>
</g>
<g clip-path="url(#ch1)"><rect x="1208" y="940" width="89" height="70" fill="#c81414"/><rect x="1297" y="940" width="16" height="70" fill="#f53048"/><rect x="1313" y="940" width="42" height="70" fill="#ff6a9a"/></g>
<g clip-path="url(#ch2)"><rect x="1060" y="1220" width="75" height="70" fill="#c81414"/><rect x="1135" y="1220" width="25" height="70" fill="#f53048"/><rect x="1160" y="1220" width="17" height="70" fill="#ff6a9a"/><rect x="1177" y="1220" width="41" height="70" fill="#f8a0c0"/></g>
<g clip-path="url(#ch3)"><rect x="816" y="1360" width="106" height="70" fill="#c81414"/><rect x="922" y="1360" width="42" height="70" fill="#f53048"/><rect x="964" y="1360" width="16" height="70" fill="#f8a0c0"/></g>
<g fill="none" stroke="#000" stroke-width="1"><path d="M1208,953 Q1300,953 1370,1000"/><path d="M1060,1236 Q1150,1234 1232,1283"/><path d="M816,1374 Q930,1372 962,1380 Q975,1384 980,1390"/>
<path d="M1205,930 L1205,1002 L1378,1002"/><path d="M1058,1213 L1058,1285 L1240,1285"/><path d="M815,1353 L815,1425 L987,1425"/></g>
<g font-size="6" font-weight="bold" text-anchor="middle">
<text x="1210" y="1011">SAM</text><text x="1228" y="1011">VS</text><text x="1249" y="1011">ES</text><text x="1267" y="1011">SR</text><text x="1287" y="1011">DR</text><text x="1305" y="1011">GP</text><text x="1323" y="1011">FM</text><text x="1348" y="1011">TS</text><text x="1368" y="1011">AP</text>
<text x="1072" y="1293">SAM</text><text x="1091" y="1293">VS</text><text x="1112" y="1293">ES</text><text x="1130" y="1293">SR</text><text x="1150" y="1293">DR</text><text x="1168" y="1293">GP</text><text x="1187" y="1293">FM</text><text x="1211" y="1293">TS</text><text x="1231" y="1293">AP</text>
<text x="818" y="1434">SAM</text><text x="840" y="1434">VS</text><text x="859" y="1434">ES</text><text x="879" y="1434">SR</text><text x="898" y="1434">DR</text><text x="918" y="1434">GP</text><text x="938" y="1434">FM</text><text x="957" y="1434">TS</text><text x="976" y="1434">AP</text>
</g>
<g font-size="4.5" font-weight="bold" text-anchor="middle"><text transform="translate(1201,966) rotate(-90)">Apical meristem activity</text><text transform="translate(1064,1250) rotate(-90)">Apical meristem activity</text><text transform="translate(810,1389) rotate(-90)">Apical meristem activity</text></g>
<g font-size="17" font-weight="bold" text-anchor="middle"><text x="1374" y="949">Optimized wheat</text><text x="1258" y="1241">Wheat</text><text x="979" y="1366">Barley</text></g>
</svg>
</body></html>
